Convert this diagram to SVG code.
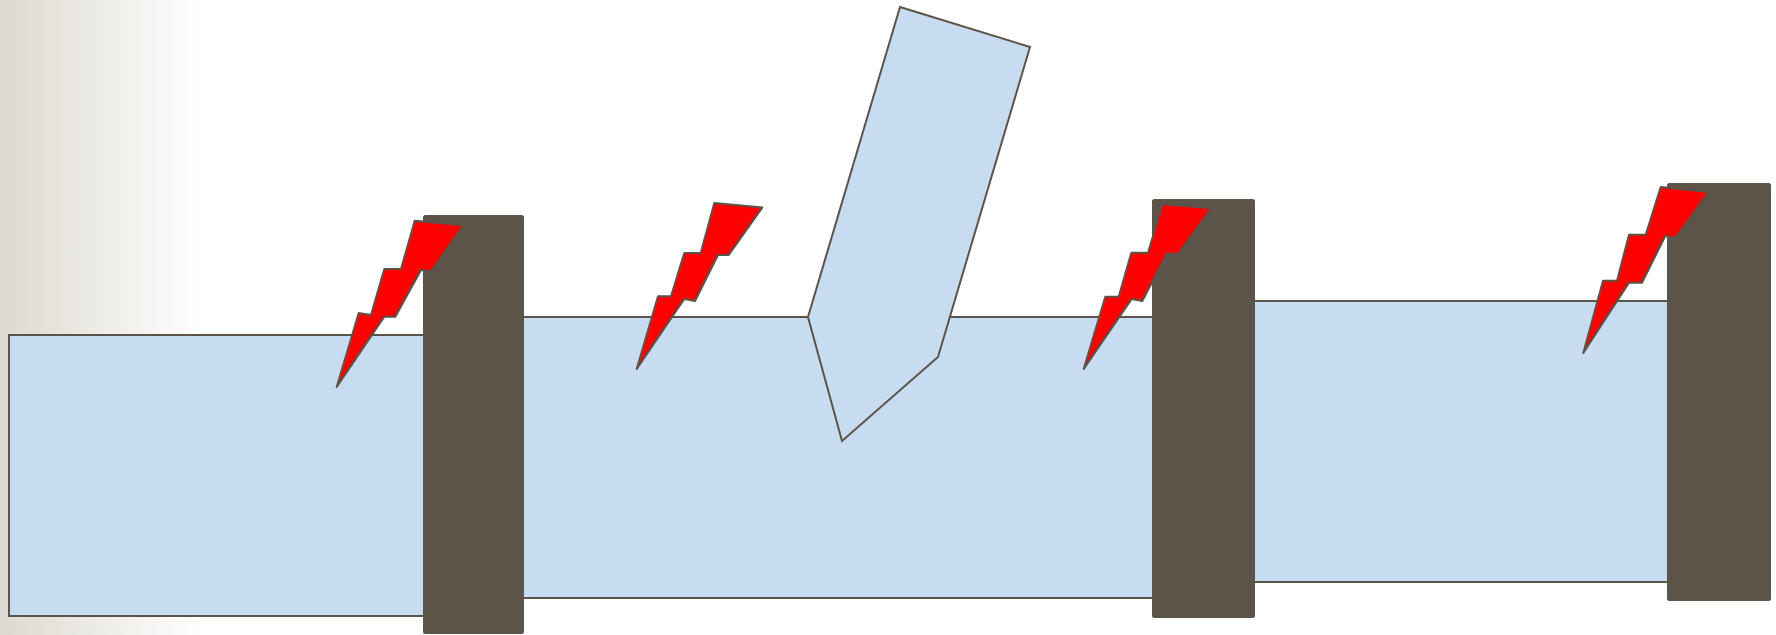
<svg xmlns="http://www.w3.org/2000/svg" width="1776" height="635" viewBox="0 0 1776 635">
<style>
.band{fill:#c7dcf0;stroke:#5c5349;stroke-width:2;stroke-linejoin:miter}
.pillar{fill:#5c5349;stroke:#5c5349;stroke-width:2;stroke-linejoin:round}
.bolt{fill:#ff0000;stroke:#5c5349;stroke-width:2;stroke-linejoin:round}
</style>
<defs>
<linearGradient id="bg" x1="0" y1="0" x2="1" y2="0">
<stop offset="0" stop-color="#ddd9d0"/>
<stop offset="1" stop-color="#ffffff"/>
</linearGradient>
</defs>
<rect id="background" x="0" y="0" width="203" height="635" fill="url(#bg)"/>
<g id="water-1"><rect class="band" x="9" y="335" width="420" height="281"/></g>
<g id="water-2"><rect class="band" x="520" y="317" width="640" height="281"/></g>
<g id="water-3"><rect class="band" x="1250" y="301" width="422" height="281"/></g>
<g id="gate"><polygon class="band" points="900,7 1030,47 938,357 842,441 808,317"/></g>
<g id="pillar-1"><rect class="pillar" x="424" y="216" width="99" height="417" rx="1.5"/></g>
<g id="pillar-2"><rect class="pillar" x="1153" y="200" width="101" height="417" rx="1.5"/></g>
<g id="pillar-3"><rect class="pillar" x="1668" y="184" width="102" height="416" rx="1.5"/></g>
<g id="bolt-1"><polygon class="bolt" points="414.7,220.7 463.7,225.3 431.3,271.3 421,270 395.3,316.7 384.3,316.7 336.7,387 358.7,313 371,315 384.3,269 401,269"/></g>
<g id="bolt-2"><polygon class="bolt" points="714.3,203 762.4,207.5 728.7,255 718,255 695,301 684.3,299 636.7,369 658,296.3 671,296.3 684.3,253 700.7,253"/></g>
<g id="bolt-3"><polygon class="bolt" points="1162.7,204 1211.5,208.3 1178.5,253.7 1167,253.7 1142.3,301 1131.7,299 1083.7,369 1105.3,296.7 1118.7,296.7 1131.3,252.7 1148,252.7"/></g>
<g id="bolt-4"><polygon class="bolt" points="1660.7,187 1708.8,192 1675.8,237.7 1665.3,236 1642,282.7 1629,282.7 1583.3,353 1603,280.7 1617,280.7 1629,234.7 1645.7,234.7"/></g>
<g id="connectors"/>
</svg>
